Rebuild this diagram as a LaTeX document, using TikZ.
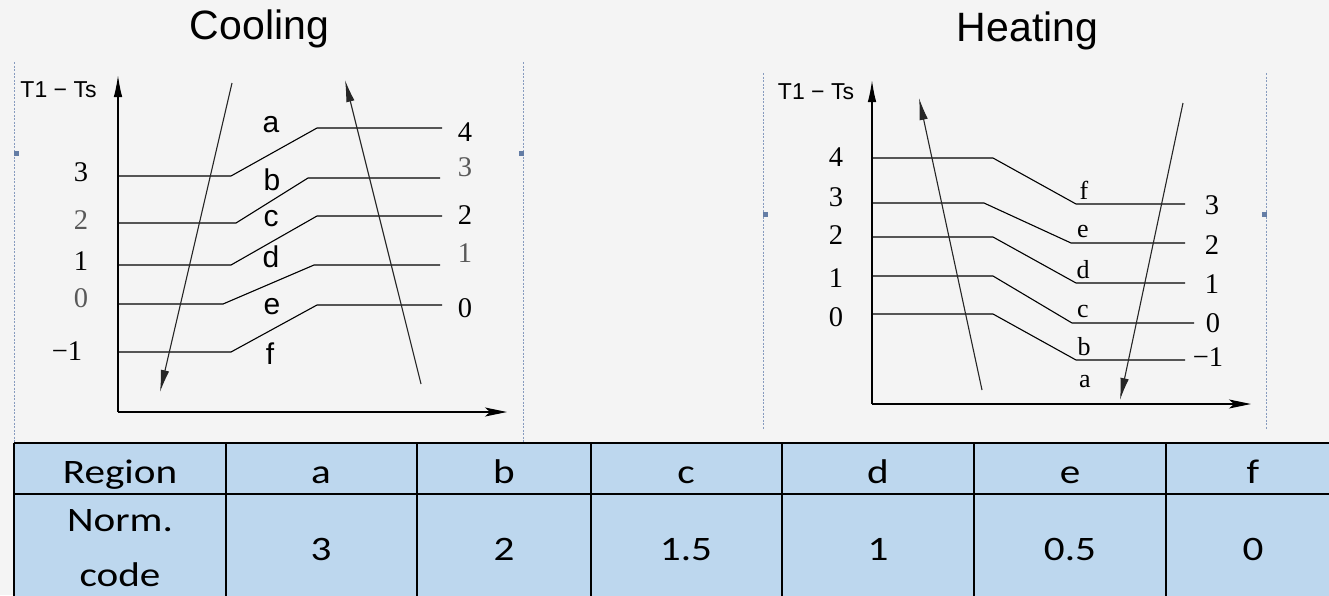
\documentclass[tikz,border=0pt]{standalone}
\usepackage{graphicx}
\usepackage{fontspec}
\setmainfont{Liberation Serif}
\newfontfamily\arialf{Liberation Sans}
\newfontfamily\calf{Carlito}
\usetikzlibrary{arrows.meta}
\definecolor{bg}{RGB}{244,244,244}
\definecolor{cellblue}{RGB}{189,215,238}
\definecolor{frameblue}{RGB}{135,155,190}
\definecolor{markblue}{RGB}{100,125,165}
\newcommand\tw[1]{\scalebox{1.2}[1]{#1}}
\begin{document}
\begin{tikzpicture}[x=1pt,y=-1pt,
  title/.style={font=\arialf\fontsize{41}{41}\selectfont, anchor=base, inner sep=0pt},
  axlab/.style={font=\arialf\fontsize{23}{23}\selectfont, inner sep=0pt},
  num/.style={font=\fontsize{28.5}{28.5}\selectfont, inner sep=0pt},
  lnum/.style={num, text=black!65},
  sreg/.style={font=\arialf\fontsize{30}{30}\selectfont, inner sep=0pt},
  hreg/.style={font=\fontsize{26}{26}\selectfont, inner sep=0pt},
  level/.style={line width=1.1pt, black},
  axis/.style={line width=1.4pt, black},
  flow/.style={line width=1.1pt, black!85, -{Latex[length=22pt,width=8.5pt]}},
  yarrow/.style={-{Latex[length=22pt,width=8.5pt]}},
  xarrow/.style={-{Stealth[length=22pt,width=9pt,inset=5pt]}},
  frame/.style={frameblue, line width=0.9pt, dash pattern=on 2pt off 1.5pt},
  marker/.style={fill=markblue, draw=none, minimum size=5pt, inner sep=0pt},
  cell/.style={font=\calf\fontsize{34.3}{34.3}\selectfont, anchor=base, inner sep=0pt},
  grid/.style={line width=2.6pt, black}
]
\useasboundingbox (0,0) rectangle (1329,595);
\fill[bg] (0,0) rectangle (1329,595);

% titles
\node[title] (tcool) at (259.5,39) {Cooling};
\node[title] (theat) at (1027.5,41) {Heating};

% ---------- Cooling frame ----------
\draw[frame] (14,62) -- (14,443);
\draw[frame] (523,62) -- (523,443);
\node[marker] (cm1) at (16,153) {};
\node[marker] (cm2) at (521,153) {};

% axes
\coordinate (co) at (118,412);
\coordinate (cy) at (118,75);
\coordinate (cx) at (507,412);
\draw[axis,yarrow] (co) -- (cy);
\draw[axis,xarrow] (co) -- (cx);
\node[axlab] (cT) at (58.5,90) {T1 − Ts};

% level lines
\draw[level] (118,176) -- (231,176) -- (317,128) -- (442,128);
\draw[level] (118,223) -- (236,223) -- (308,178) -- (440,178);
\draw[level] (118,265) -- (231,265) -- (317,216) -- (442,216);
\draw[level] (118,304) -- (223,304) -- (314,265) -- (440,265);
\draw[level] (118,352) -- (231,352) -- (317,305) -- (442,305);

% flow arrows
\coordinate (cd1) at (232,83);
\coordinate (cd2) at (160,392);
\coordinate (cu1) at (421,384);
\coordinate (cu2) at (345,80);
\draw[flow] (cd1) -- (cd2);
\draw[flow] (cu1) -- (cu2);

% left numbers
\node[num] (cl3) at (81,172) {3};
\node[lnum] (cl2) at (81,220) {2};
\node[num] (cl1) at (81,261) {1};
\node[lnum] (cl0) at (81,298) {0};
\node[num] (clm) at (67,351) {−1};
% right numbers
\node[num] (cr4) at (465,132) {4};
\node[lnum] (cr3) at (465,167) {3};
\node[num] (cr2) at (465,215) {2};
\node[lnum] (cr1) at (465,253) {1};
\node[num] (cr0) at (465,308) {0};
% region letters
\node[sreg] (ca) at (271,125) {a};
\node[sreg] (cb) at (272,180) {b};
\node[sreg] (cc) at (271,219) {c};
\node[sreg] (cdd) at (271,257) {d};
\node[sreg] (ce) at (272,307) {e};
\node[sreg] (cf) at (270,354) {f};

% ---------- Heating frame ----------
\draw[frame] (763,73) -- (763,430);
\draw[frame] (1266,73) -- (1266,430);
\node[marker] (hm1) at (765,214) {};
\node[marker] (hm2) at (1264,214) {};

\coordinate (ho) at (872,404);
\coordinate (hy) at (872,80);
\coordinate (hx) at (1251,404);
\draw[axis,yarrow] (ho) -- (hy);
\draw[axis,xarrow] (ho) -- (hx);
\node[axlab] (hT) at (816,92) {T1 − Ts};

\draw[level] (872,158) -- (993,158) -- (1076,204) -- (1185,204);
\draw[level] (872,203) -- (984,203) -- (1071,243) -- (1185,243);
\draw[level] (872,237) -- (993,237) -- (1076,283) -- (1185,283);
\draw[level] (872,276) -- (993,276) -- (1072,323) -- (1194,323);
\draw[level] (872,314) -- (993,314) -- (1076,360) -- (1185,360);

\coordinate (hu1) at (982,390);
\coordinate (hu2) at (919,98);
\coordinate (hd1) at (1183,103);
\coordinate (hd2) at (1120,400);
\draw[flow] (hu1) -- (hu2);
\draw[flow] (hd1) -- (hd2);

\node[num] (hl4) at (836,157) {4};
\node[num] (hl3) at (836,197) {3};
\node[num] (hl2) at (836,235) {2};
\node[num] (hl1) at (836,278) {1};
\node[num] (hl0) at (836,317) {0};
\node[num] (hr3) at (1212,205) {3};
\node[num] (hr2) at (1212,245) {2};
\node[num] (hr1) at (1212,284) {1};
\node[num] (hr0) at (1213,323) {0};
\node[num] (hrm) at (1208,357) {−1};
\node[hreg] (hf) at (1084,190) {f};
\node[hreg] (he) at (1083,231) {e};
\node[hreg] (hdd) at (1083,270) {d};
\node[hreg] (hc) at (1083,311) {c};
\node[hreg] (hb) at (1084,347) {b};
\node[hreg] (ha) at (1085,382) {a};

% ---------- Table ----------
\fill[cellblue] (14,443) rectangle (1345,600);
\draw[grid] (14,443) -- (1345,443);
\draw[grid] (14,494) -- (1345,494);
\foreach \x in {14,226,417,591,782,974,1166}
  \draw[grid] (\x,443) -- (\x,600);

\node[cell] (r0) at (120,483.3) {\tw{Region}};
\node[cell] (ra) at (321,483.3) {\tw{a}};
\node[cell] (rb) at (504,483.3) {\tw{b}};
\node[cell] (rc) at (686,483.3) {\tw{c}};
\node[cell] (rd) at (878,483.3) {\tw{d}};
\node[cell] (re) at (1070,483.3) {\tw{e}};
\node[cell] (rf) at (1253,483.3) {\tw{f}};

\node[cell] (n1) at (120,531.7) {\tw{Norm.}};
\node[cell] (n2) at (120,586.7) {\tw{code}};
\node[cell] (va) at (321,560) {\tw{3}};
\node[cell] (vb) at (504,560) {\tw{2}};
\node[cell] (vc) at (686,560) {\tw{1.5}};
\node[cell] (vd) at (878,560) {\tw{1}};
\node[cell] (ve) at (1070,560) {\tw{0.5}};
\node[cell] (vf) at (1253,560) {\tw{0}};
\end{tikzpicture}
\end{document}
